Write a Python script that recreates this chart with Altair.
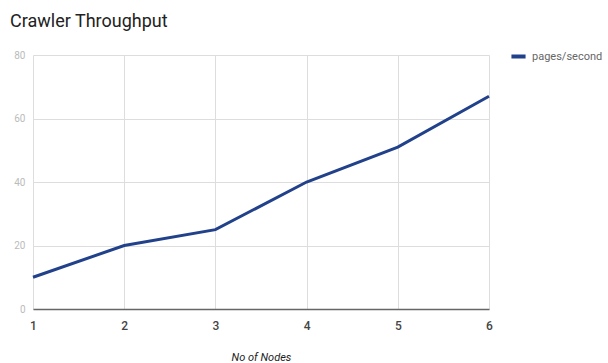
import altair as alt
import pandas as pd

nodes = [1, 2, 3, 4, 5, 6]
pages_per_second = [10, 20, 25, 40, 51, 67]
series = ["pages/second"] * len(nodes)

df = pd.DataFrame({"nodes": nodes, "value": pages_per_second, "series": series})

chart = alt.Chart(df).mark_line(strokeWidth=3).encode(
    x=alt.X("nodes:Q", scale=alt.Scale(domain=[1, 6], nice=False, zero=False),
            axis=alt.Axis(values=nodes, format="d", title="No of Nodes",
                          titleFontStyle="italic", titleFontWeight="normal",
                          titleFontSize=11, titleColor="#222", titlePadding=20,
                          labelFontSize=12, labelColor="#444", labelPadding=11,
                          labelFlush=False, labelFontWeight=500,
                          ticks=False, domainColor="#666", domainWidth=1.5,
                          gridColor="#ddd", labelFont="Roboto", titleFont="Roboto")),
    y=alt.Y("value:Q", scale=alt.Scale(domain=[0, 80], nice=False),
            axis=alt.Axis(values=[0, 20, 40, 60, 80], title=None, ticks=False,
                          domain=False, labelFontSize=10, labelColor="#bbb",
                          labelPadding=8, gridColor="#ddd", labelFont="Roboto")),
    color=alt.Color("series:N", scale=alt.Scale(range=["#21418b"]),
                    legend=alt.Legend(title=None, orient="none", legendX=476, legendY=-8,
                                      symbolType="stroke", symbolStrokeWidth=4,
                                      symbolSize=200, labelFontSize=11,
                                      labelColor="#666", labelFont="Roboto")),
).properties(
    width=456, height=254,
    title=alt.TitleParams("Crawler Throughput", anchor="start", frame="group", dx=-23,
                          offset=16, fontSize=18, fontWeight="normal", color="#222",
                          font="Roboto"),
    autosize=alt.AutoSizeParams(type="none"),
    padding={"left": 33, "top": 55, "right": 119, "bottom": 54},
).configure_view(stroke=None)

chart.save("out.html", embed_options={"renderer": "svg", "actions": False})
